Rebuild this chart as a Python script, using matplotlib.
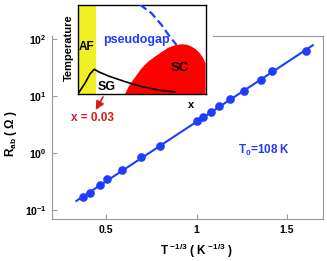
#!/usr/bin/env python3
"""R_ab vs T^-1/3 (Mott VRH, 2D) with phase-diagram inset."""
import math

import matplotlib
matplotlib.use("Agg")
import matplotlib.pyplot as plt
from matplotlib import font_manager
from matplotlib.ticker import FixedLocator, FuncFormatter, NullLocator

# ----------------------------------------------------------------------
# data
# ----------------------------------------------------------------------
INV_T = [0.370, 0.408, 0.465, 0.504, 0.585, 0.694, 0.795, 1.000,
         1.035, 1.078, 1.122, 1.184, 1.260, 1.357, 1.417, 1.607]
R_AB = [0.168, 0.199, 0.279, 0.350, 0.516, 0.845, 1.35, 3.67,
        4.36, 5.19, 6.65, 8.83, 12.2, 18.7, 27.6, 61.7]
FIT_X = [0.335, 1.643]
FIT_Y = [0.146, 76.7]

# inset schematic (doping x, temperature), both in 0..1
AF_X = [0.0, 0.141]
SG_X = [0.005, 0.057, 0.096, 0.130, 0.161, 0.239, 0.370, 0.500, 0.630, 0.760]
SG_T = [0.008, 0.120, 0.224, 0.277, 0.250, 0.202, 0.138, 0.082, 0.045, 0.022]
PG_X = [0.487, 0.578, 0.656, 0.721, 0.773]
PG_T = [1.000, 0.904, 0.773, 0.642, 0.549]
SC_X = [0.370, 0.400, 0.434, 0.500, 0.550, 0.604, 0.660, 0.708, 0.760,
        0.813, 0.855, 0.891, 0.925, 0.955, 0.980, 1.000, 1.000]
SC_T = [0.000, 0.085, 0.157, 0.288, 0.360, 0.418, 0.472, 0.518, 0.545,
        0.557, 0.552, 0.530, 0.500, 0.456, 0.405, 0.344, 0.000]

BLUE = "#1f3cff"
RED = "#ff0000"
DARKRED = "#d61c1c"
YELLOW = "#f0f023"
GRAY = "#9a9a9a"

plt.rcParams["font.family"] = ["Liberation Sans", "DejaVu Sans"]
plt.rcParams["font.weight"] = "bold"
plt.rcParams["mathtext.fontset"] = "custom"
plt.rcParams["mathtext.rm"] = "Liberation Sans:bold"
plt.rcParams["mathtext.bf"] = "Liberation Sans:bold"
plt.rcParams["mathtext.it"] = "Liberation Sans:bold"
plt.rcParams["mathtext.default"] = "bf"

try:
    font_manager.findfont("Liberation Sans Narrow", fallback_to_default=False)
    NARROW = ["Liberation Sans Narrow", "Liberation Sans"]
except Exception:
    NARROW = ["Liberation Sans"]


def main() -> None:
    fig = plt.figure(figsize=(3.27, 2.61), dpi=100)
    ax = fig.add_axes([0.159, 0.161, 0.829, 0.701])

    ax.semilogy(FIT_X, FIT_Y, color=BLUE, lw=1.5, zorder=2)
    ax.semilogy(INV_T, R_AB, ls="none", marker="o", ms=5.2, color=BLUE,
                mec=BLUE, zorder=3)

    ax.set_xlim(0.2, 1.7)
    ax.set_ylim(10 ** -1.152, 10 ** 2.047)
    ax.xaxis.set_major_locator(FixedLocator([0.5, 1.0, 1.5]))
    ax.xaxis.set_major_formatter(FuncFormatter(lambda v, p: f"{v:g}"))
    ax.yaxis.set_major_locator(FixedLocator([0.1, 1, 10, 100]))
    ax.yaxis.set_major_formatter(FuncFormatter(
        lambda v, p: r"$\mathbf{10^{%d}}$" % round(math.log10(v))))
    ax.yaxis.set_minor_locator(NullLocator())
    ax.xaxis.set_minor_locator(NullLocator())
    ax.tick_params(direction="in", length=3.5, width=0.8, color=GRAY,
                   labelsize=7.5, pad=4)
    for s in ax.spines.values():
        s.set_color(GRAY)
        s.set_linewidth(0.8)
    # the inset image hides the left part of the top frame
    ax.spines["top"].set_bounds(1.09, 1.7)

    ax.text(1.23, 10 ** 0.04, r"T$_\mathbf{0}$=108 K",
            color=BLUE, fontsize=8.5, fontweight="bold", va="center")

    fig.text(0.034, 0.49, r"R$_\mathbf{ab}$ ( $\Omega$ )", rotation=90,
             fontsize=8.5, fontweight="bold", ha="center", va="center")
    fig.text(0.601, 0.038, r"T$^{\ \mathbf{-1/3}}$ ( K$^{\ \mathbf{-1/3}}$ )",
             fontsize=8.5, fontweight="bold", ha="center", va="center")

    # ---------------- inset phase diagram ----------------
    ins = fig.add_axes([0.2376, 0.640, 0.391, 0.342])
    ins.set_xlim(0, 1)
    ins.set_ylim(0, 1)
    ins.set_xticks([])
    ins.set_yticks([])
    ins.set_facecolor("white")
    for s in ins.spines.values():
        s.set_color("black")
        s.set_linewidth(1.0)

    ins.axvspan(AF_X[0], AF_X[1], color=YELLOW, lw=0, zorder=1)
    ins.fill(SC_X, SC_T, color=RED, lw=0, zorder=2)
    ins.plot(SG_X, SG_T, color="black", lw=1.2, zorder=3)
    ins.plot(PG_X, PG_T, color=BLUE, lw=1.6, dashes=(3.6, 1.8), zorder=3)

    ins.text(0.068, 0.53, "AF", fontsize=8.5, family=NARROW,
             fontweight="bold", ha="center", va="center", zorder=4)
    ins.text(0.46, 0.605, "pseudogap", fontsize=9, color=BLUE,
             fontweight="bold", ha="center", va="center", zorder=4)
    ins.text(0.227, 0.075, "SG", fontsize=9, family=NARROW,
             fontweight="bold", ha="center", va="center", zorder=4)
    ins.text(0.80, 0.288, "SC", fontsize=9.5, family=NARROW,
             fontweight="bold", ha="center", va="center", zorder=4)
    ins.text(-0.068, 0.515, "Temperature", fontsize=8, rotation=90,
             fontweight="bold", ha="center", va="center")
    ins.text(0.89, -0.123, "x", fontsize=8, fontweight="bold",
             ha="center", va="center")
    ins.annotate("", xy=(0.141, -0.179), xytext=(0.198, -0.034),
                 xycoords="axes fraction", annotation_clip=False,
                 arrowprops=dict(arrowstyle="-|>,head_length=0.5,head_width=0.25",
                                 color=DARKRED, lw=1.2, shrinkA=0, shrinkB=0))
    ins.text(0.112, -0.269, "x = 0.03", fontsize=8.5, color=DARKRED,
             fontweight="bold", ha="center", va="center")

    fig.savefig("out.png", dpi=100)
    plt.close(fig)


if __name__ == "__main__":
    main()
